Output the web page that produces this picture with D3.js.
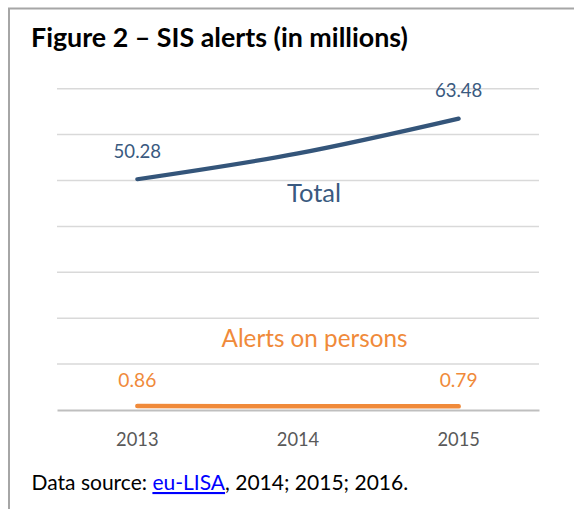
<!DOCTYPE html>
<html><head><meta charset="utf-8">
<script src="https://cdn.jsdelivr.net/npm/d3@7"></script>
<style>body{margin:0;background:#fff}svg{display:block}</style>
</head><body>
<svg id="c" width="574" height="509"></svg>
<script>
const years = ["2013", "2014", "2015"];
const totalValues = [50.28, 55.9, 63.48];
const personValues = [0.86, 0.82, 0.79];
const totalLabels = ["50.28", "", "63.48"];
const personLabels = ["0.86", "", "0.79"];
const yTicks = [0, 10, 20, 30, 40, 50, 60, 70];

const svg = d3.select("#c");
const font = "Lato, 'Open Sans', sans-serif";

// scale a text's font so it spans a given width
function fit(sel, w) {
  sel.each(function () {
    const len = this.getComputedTextLength();
    if (len > 0) {
      const fs = parseFloat(this.getAttribute("font-size"));
      this.setAttribute("font-size", fs * w / len);
    }
  });
  return sel;
}

// frame
svg.append("path").attr("d", "M9,520 L9,8.5 L580,8.5").attr("fill", "none")
  .attr("stroke", "#a6a6a6").attr("stroke-width", 2);

fit(svg.append("text").attr("x", 31).attr("y", 46.5).attr("font-family", font)
  .attr("font-weight", "bold").attr("font-size", 23).attr("fill", "#000")
  .text("Figure 2 – SIS alerts (in millions)"), 377);

const x = d3.scaleBand().domain(years).range([57, 539]);
const y = d3.scaleLinear().domain([0, 70]).range([410, 88.7]);
const cx = d => x(d) + x.bandwidth() / 2;

// gridlines
svg.append("g").selectAll("line").data(yTicks.slice(1)).join("line")
  .attr("x1", 57).attr("x2", 539).attr("y1", d => y(d)).attr("y2", d => y(d))
  .attr("stroke", "#d9d9d9").attr("stroke-width", 1.5);

// x axis
const xa = svg.append("g").attr("transform", `translate(0,${y(0)})`)
  .call(d3.axisBottom(x).tickSize(0).tickPadding(0));
xa.select(".domain").attr("stroke", "#bfbfbf").attr("stroke-width", 2);
xa.selectAll("text").attr("dy", null).attr("y", 36).attr("font-family", font)
  .attr("font-size", 17).attr("fill", "#595959");
fit(xa.selectAll("text"), 42.5);

const line = d3.line().x((d, i) => cx(years[i])).y(d => y(d)).curve(d3.curveCatmullRom.alpha(0.5));

svg.append("path").datum(totalValues).attr("d", line).attr("fill", "none")
  .attr("stroke", "#34557a").attr("stroke-width", 4.2).attr("stroke-linecap", "round");
svg.append("path").datum(personValues).attr("d", line).attr("fill", "none")
  .attr("stroke", "#f08a3a").attr("stroke-width", 4.5).attr("stroke-linecap", "round");

fit(svg.append("g").selectAll("text").data(totalValues).join("text")
  .attr("x", (d, i) => cx(years[i])).attr("y", d => y(d) - 21.5)
  .attr("text-anchor", "middle").attr("font-family", font).attr("font-size", 17)
  .attr("fill", "#3a5a80").text((d, i) => totalLabels[i]), 47.5);
fit(svg.append("g").selectAll("text").data(personValues).join("text")
  .attr("x", (d, i) => cx(years[i])).attr("y", d => y(d) - 19)
  .attr("text-anchor", "middle").attr("font-family", font).attr("font-size", 17)
  .attr("fill", "#f08a3a").text((d, i) => personLabels[i]), 38);

fit(svg.append("text").attr("x", 314).attr("y", 201.5).attr("text-anchor", "middle")
  .attr("font-family", font).attr("font-size", 21).attr("fill", "#3a5a80").text("Total"), 54);
fit(svg.append("text").attr("x", 314.5).attr("y", 347).attr("text-anchor", "middle")
  .attr("font-family", font).attr("font-size", 21).attr("fill", "#f08a3a").text("Alerts on persons"), 186);

const foot = svg.append("text").attr("x", 31.5).attr("y", 490).attr("font-family", font)
  .attr("font-size", 17).attr("fill", "#000");
foot.append("tspan").text("Data source: ");
foot.append("tspan").attr("fill", "#0000ff").attr("text-decoration", "underline").text("eu-LISA");
foot.append("tspan").text(", 2014; 2015; 2016.");
fit(foot, 377);
</script>
</body></html>
